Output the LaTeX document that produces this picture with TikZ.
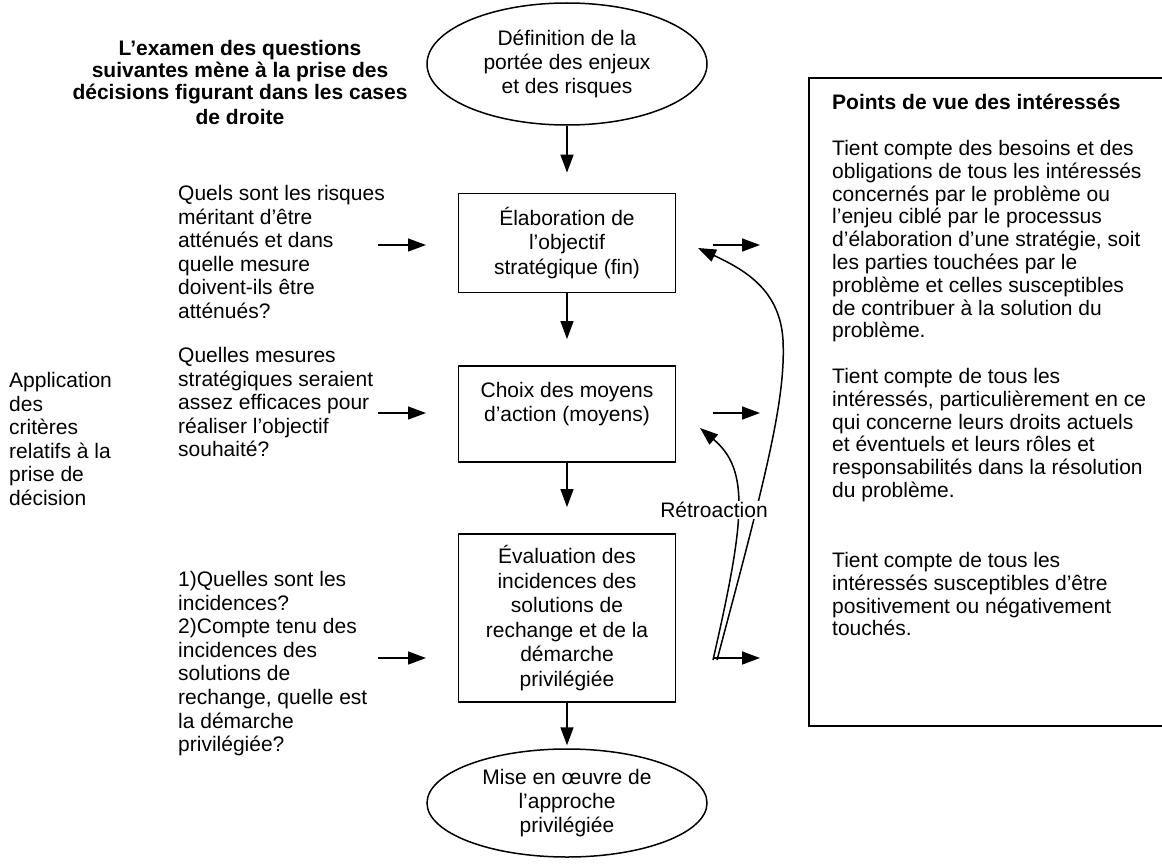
\documentclass[tikz,border=0pt]{standalone}
\usepackage{fontspec}
\setmainfont{Liberation Sans}
\usetikzlibrary{arrows.meta,shapes.geometric}
\begin{document}
\begin{tikzpicture}[x=1pt,y=-1pt,
  font=\fontsize{21}{23.6}\selectfont,
  box/.style={draw,line width=1.8pt,minimum width=217pt,align=center,inner sep=0pt,
    font=\fontsize{21}{24.5}\selectfont},
  oval/.style={draw,ellipse,line width=1.5pt,minimum width=280pt,inner sep=0pt,align=center},
  txt/.style={anchor=north west,inner sep=0pt,align=left},
  arr/.style={line width=1.5pt,-{Triangle[length=18pt,width=13pt]}}]
\useasboundingbox (0,0) rectangle (1162,867);
\clip (0,0) rectangle (1162,867);
\node[font=\fontsize{21}{22}\selectfont\bfseries,align=center] (titre) at (240,82)
  {L’examen des questions\\suivantes mène à la prise des\\décisions figurant dans les cases\\[3pt]de droite};
\node[oval,minimum height=122pt] (portee) at (567,64) {Définition de la\\portée des enjeux\\et des risques};
\node[box,minimum height=99pt] (objectif) at (567,243) {Élaboration de\\l’objectif\\stratégique (fin)};
\node[box,minimum height=96pt] (moyens) at (567,414) {Choix des moyens\\d’action (moyens)\\\mbox{}};
\node[box,minimum height=168pt] (incidences) at (567,618)
  {Évaluation des\\incidences des\\solutions de\\rechange et de la\\démarche\\privilégiée};
\node[oval,minimum height=108pt] (miseoeuvre) at (567,803) {Mise en œuvre de\\l’approche\\privilégiée};
\draw[arr,shorten >=20pt] (portee.south) -- (objectif.north);
\draw[arr,shorten >=26pt] (objectif.south) -- (moyens.north);
\draw[arr,shorten >=26pt] (moyens.south) -- (incidences.north);
\draw[arr,shorten >=3pt] (incidences.south) -- (miseoeuvre.north);
\node[txt] (qun) at (178,185) {Quels sont les risques\\méritant d’être\\atténués et dans\\quelle mesure\\doivent-ils être\\atténués?};
\node[txt] (qdeux) at (178,347) {Quelles mesures\\stratégiques seraient\\assez efficaces pour\\réaliser l’objectif\\souhaité?};
\node[txt] (qtrois) at (178,571) {1)Quelles sont les\\incidences?\\2)Compte tenu des\\incidences des\\solutions de\\rechange, quelle est\\la démarche\\privilégiée?};
\node[txt] (criteres) at (9,372) {Application\\des\\critères\\relatifs à la\\prise de\\décision};
\foreach \n/\y in {a/245,b/413,c/658}{
  \coordinate (qin\n) at (378,\y);
  \coordinate (qout\n) at (426,\y);
  \coordinate (pin\n) at (713,\y);
  \coordinate (pout\n) at (760,\y);
  \draw[arr] (qin\n) -- (qout\n);
  \draw[arr] (pin\n) -- (pout\n);
}
\coordinate (fba) at (713,660);
\coordinate (fbb) at (717,660);
\coordinate (tipa) at (700,428);
\coordinate (tipb) at (698,248);
\draw[arr] (fba) .. controls (745,520) and (750,470) .. (tipa);
\draw[arr] (fbb) .. controls (765,480) and (786,400) .. (783,340) .. controls (780,290) and (745,270) .. (tipb);
\node[fill=white,inner sep=1pt] (retro) at (714,510) {Rétroaction};
\draw[line width=2pt] (809,78) rectangle (1180,726);
\node[txt,font=\fontsize{21}{23}\selectfont\bfseries] (pvtitre) at (832,94) {Points de vue des intéressés};
\node[txt,font=\fontsize{21}{22.8}\selectfont] (pvun) at (832,140) {Tient compte des besoins et des\\obligations de tous les intéressés\\concernés par le problème ou\\l’enjeu ciblé par le processus\\d’élaboration d’une stratégie, soit\\les parties touchées par le\\problème et celles susceptibles\\de contribuer à la solution du\\problème.};
\node[txt,font=\fontsize{21}{22.8}\selectfont] (pvdeux) at (832,368) {Tient compte de tous les\\intéressés, particulièrement en ce\\qui concerne leurs droits actuels\\et éventuels et leurs rôles et\\responsabilités dans la résolution\\du problème.};
\node[txt,font=\fontsize{21}{22.8}\selectfont] (pvtrois) at (832,552) {Tient compte de tous les\\intéressés susceptibles d’être\\positivement ou négativement\\touchés.};
\end{tikzpicture}
\end{document}
